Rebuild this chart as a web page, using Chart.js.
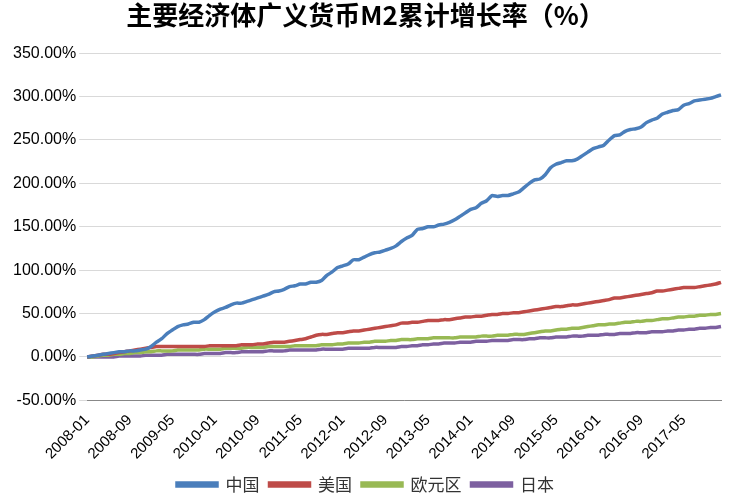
<!DOCTYPE html><html><head><meta charset="utf-8">
<script src="https://cdn.jsdelivr.net/npm/chart.js@4"></script>
<style>body{margin:0;background:#fff}#w{width:729px;height:503px}</style></head><body><div id="w"><canvas id="c"></canvas></div>
<script>
const months=[];for(let y=2008;y<=2017;y++)for(let m=1;m<=12;m++)months.push(y+'-'+String(m).padStart(2,'0'));
const china=[0,1,2,3,4,5,6,6,7,7,8,9,12,17,21,27,31,35,37,38,40,40,43,48,52,55,57,60,62,62,64,66,68,70,72,75,76,78,81,82,84,84,86,86,88,94,98,103,105,107,112,112,115,118,120,121,123,125,128,133,137,140,147,148,150,150,152,153,155,158,162,166,170,172,177,180,186,185,186,186,188,190,195,200,204,205,210,218,222,224,226,226,228,232,236,240,242,244,250,255,256,260,262,263,265,270,273,275,280,282,284,285,290,292,295,296,297,298,300,302];
const usa=[0,1,2,3,3,4,5,6,7,8,9,10,11,12,12,12,12,12,12,12,12,12,12,13,13,13,13,13,13,14,14,14,15,15,16,17,17,17,18,19,20,21,23,25,26,26,27,28,28,29,30,30,31,32,33,34,35,36,37,39,39,40,40,41,42,42,42,43,43,44,45,46,46,47,47,48,49,49,50,50,51,51,52,53,54,55,56,57,58,58,59,60,60,61,62,63,64,65,66,68,68,69,70,71,72,73,74,76,76,77,78,79,80,80,80,81,82,83,84,86];
const euro=[0,0,1,2,2,3,3,4,4,5,5,6,6,7,7,7,7,8,8,8,8,8,9,9,9,9,10,10,10,10,11,11,11,11,12,12,12,12,12,13,13,13,13,13,14,14,14,15,15,16,16,16,17,17,18,18,18,19,19,20,20,20,21,21,21,22,22,22,22,22,23,23,23,23,24,24,24,25,25,25,26,26,26,27,28,29,30,30,31,32,32,33,33,34,35,36,37,37,38,38,39,40,40,41,41,42,42,43,44,44,45,46,46,47,47,48,48,49,49,50];
const japan=[0,0,0,0,0,0,1,1,1,1,1,2,2,2,2,3,3,3,3,3,3,3,4,4,4,4,5,5,5,6,6,6,6,6,7,7,7,7,8,8,8,8,8,8,9,9,9,9,9,10,10,10,10,10,11,11,11,11,11,12,12,13,13,14,14,15,15,16,16,16,17,17,17,18,18,18,19,19,19,19,20,20,20,21,21,22,22,22,23,23,23,24,24,24,25,25,25,26,26,26,27,27,27,28,28,28,29,29,29,30,30,31,31,32,32,33,33,34,34,35];
const names=['中国','美国','欧元区','日本'];
const colors=['#4a7ebb','#be4b48','#98b954','#7d60a0'];
const ds=[china,usa,euro,japan].map((d,i)=>({label:names[i],data:d,borderColor:colors[i],backgroundColor:colors[i],borderWidth:3.5,pointRadius:0,tension:0.2}));
new Chart(document.getElementById('c'),{type:'line',data:{labels:months,datasets:ds},
options:{responsive:true,maintainAspectRatio:false,animation:false,
layout:{padding:{left:10,right:8,top:0,bottom:0}},
plugins:{title:{display:true,text:'主要经济体广义货币M2累计增长率（%）',font:{size:26,weight:'bold',family:'Noto Sans CJK SC'},color:'#000',padding:{top:0,bottom:22}},
legend:{position:'bottom',labels:{boxWidth:40,boxHeight:3,font:{size:17,family:'Noto Sans CJK SC'},color:'#333'}}},
scales:{x:{grid:{display:false},border:{color:'#888'},ticks:{autoSkip:false,maxRotation:45,minRotation:45,font:{size:15,family:'Liberation Sans'},color:'#000',callback:(v,i)=>i%8===0?months[i]:null}},
y:{min:-50,max:350,grid:{color:'#d9d9d9'},border:{display:false},ticks:{stepSize:50,font:{size:16,family:'Liberation Sans'},color:'#000',callback:v=>v.toFixed(2)+'%'}}}}});
</script></body></html>
